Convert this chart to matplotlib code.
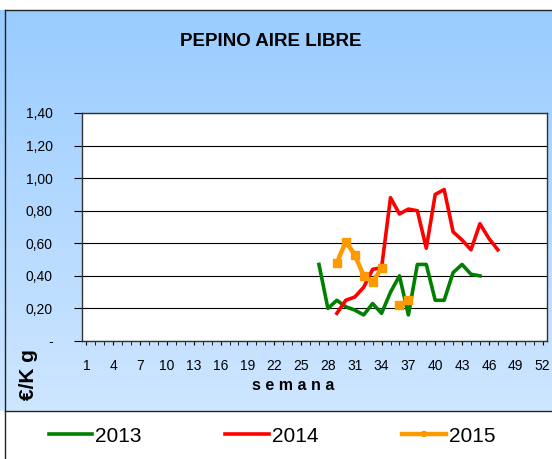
import numpy as np
import matplotlib.pyplot as plt
from matplotlib.patches import Rectangle
from matplotlib.lines import Line2D

plt.rcParams['font.family'] = ['Liberation Sans', 'DejaVu Sans']

# weekly prices (EUR/kg)
weeks_2013 = list(range(27, 46))
price_2013 = [0.47, 0.20, 0.25, 0.21, 0.19, 0.16, 0.23, 0.17, 0.30, 0.40,
              0.16, 0.47, 0.47, 0.25, 0.25, 0.42, 0.47, 0.41, 0.40]

weeks_2014 = list(range(29, 48))
price_2014 = [0.17, 0.25, 0.27, 0.33, 0.44, 0.45, 0.88, 0.78, 0.81, 0.80,
              0.57, 0.90, 0.93, 0.67, 0.62, 0.56, 0.72, 0.63, 0.56]

weeks_2015 = list(range(29, 38))
price_2015 = [0.48, 0.61, 0.53, 0.40, 0.36, 0.45, np.nan, 0.22, 0.25]

yticks = [0, 0.2, 0.4, 0.6, 0.8, 1.0, 1.2, 1.4]
ytick_labels = ['-', '0,20', '0,40', '0,60', '0,80', '1,00', '1,20', '1,40']
xticks = list(range(1, 53, 3))

fig = plt.figure(figsize=(5.52, 4.59), dpi=100)

# blue gradient background
bg = fig.add_axes([0, 0, 1, 1], zorder=-10)
top = np.array([153, 204, 255]) / 255
bot = np.array([206, 230, 255]) / 255
t = np.linspace(0, 1, 256)[:, None]
grad = top[None, :] * (1 - t) + bot[None, :] * t
bg.imshow(grad[:, None, :], aspect='auto', extent=[0, 1, 1 - 411 / 459, 1 - 10 / 459])
bg.add_patch(Rectangle((0, 0), 1, 1 - 411 / 459, color='white'))
bg.set_xlim(0, 1)
bg.set_ylim(0, 1)
bg.axis('off')
bg.plot([5 / 552, 5 / 552], [0, 1 - 10 / 459], color='#222222', lw=1)
bg.plot([5 / 552, 1], [1 - 10 / 459] * 2, color='#222222', lw=1)
bg.plot([5 / 552, 1], [1 - 411 / 459] * 2, color='#222222', lw=1)

ax = fig.add_axes([82 / 552, 1 - 341 / 459, 465 / 552, 228 / 459])
ax.set_facecolor('white')
ax.plot(weeks_2013, price_2013, color='#008000', lw=2.6, label='2013')
ax.plot(weeks_2014, price_2014, color='#ff0000', lw=2.6, label='2014')
ax.plot(weeks_2015, price_2015, color='#ff9900', lw=3.2, marker='s', ms=6, label='2015')

ax.set_xlim(0.5, 52.5)
ax.set_ylim(0, 1.4)
ax.set_yticks(yticks)
ax.set_yticklabels(ytick_labels, fontsize=10)
ax.set_xticks(xticks)
ax.set_xticklabels([str(x) for x in xticks], fontsize=10)
ax.set_xticks(range(1, 53), minor=True)
ax.tick_params(axis='x', which='both', direction='out', length=3, pad=10)
ax.tick_params(axis='y', direction='out', length=6, pad=15)
ax.grid(axis='y', color='black', lw=0.8)
ax.set_axisbelow(True)
for s in ax.spines.values():
    s.set_color('#333333')
    s.set_linewidth(1)

fig.text(271 / 552, 1 - 42 / 459, 'PEPINO AIRE LIBRE', ha='center', va='center',
         fontsize=13.5, fontweight='bold')
fig.text(293 / 552, 1 - 385 / 459, 's e m a n a', ha='center', va='center',
         fontsize=11.5, fontweight='bold')
fig.text(29 / 552, 1 - 375 / 459, '€/K g', ha='center', va='center', rotation=90,
         fontsize=15, fontweight='bold')

handles = [Line2D([], [], color='#008000', lw=2.6),
           Line2D([], [], color='#ff0000', lw=2.6),
           Line2D([], [], color='#ff9900', lw=3.2, marker='|', ms=4, mew=3)]
fig.legend(handles, ['2013', '2014', '2015'], ncol=3, loc='center',
           bbox_to_anchor=(272 / 552, 1 - 436 / 459), frameon=False, fontsize=15,
           handlelength=2.1, handletextpad=0.15, columnspacing=4.0)

fig.savefig('out.png', dpi=100)
